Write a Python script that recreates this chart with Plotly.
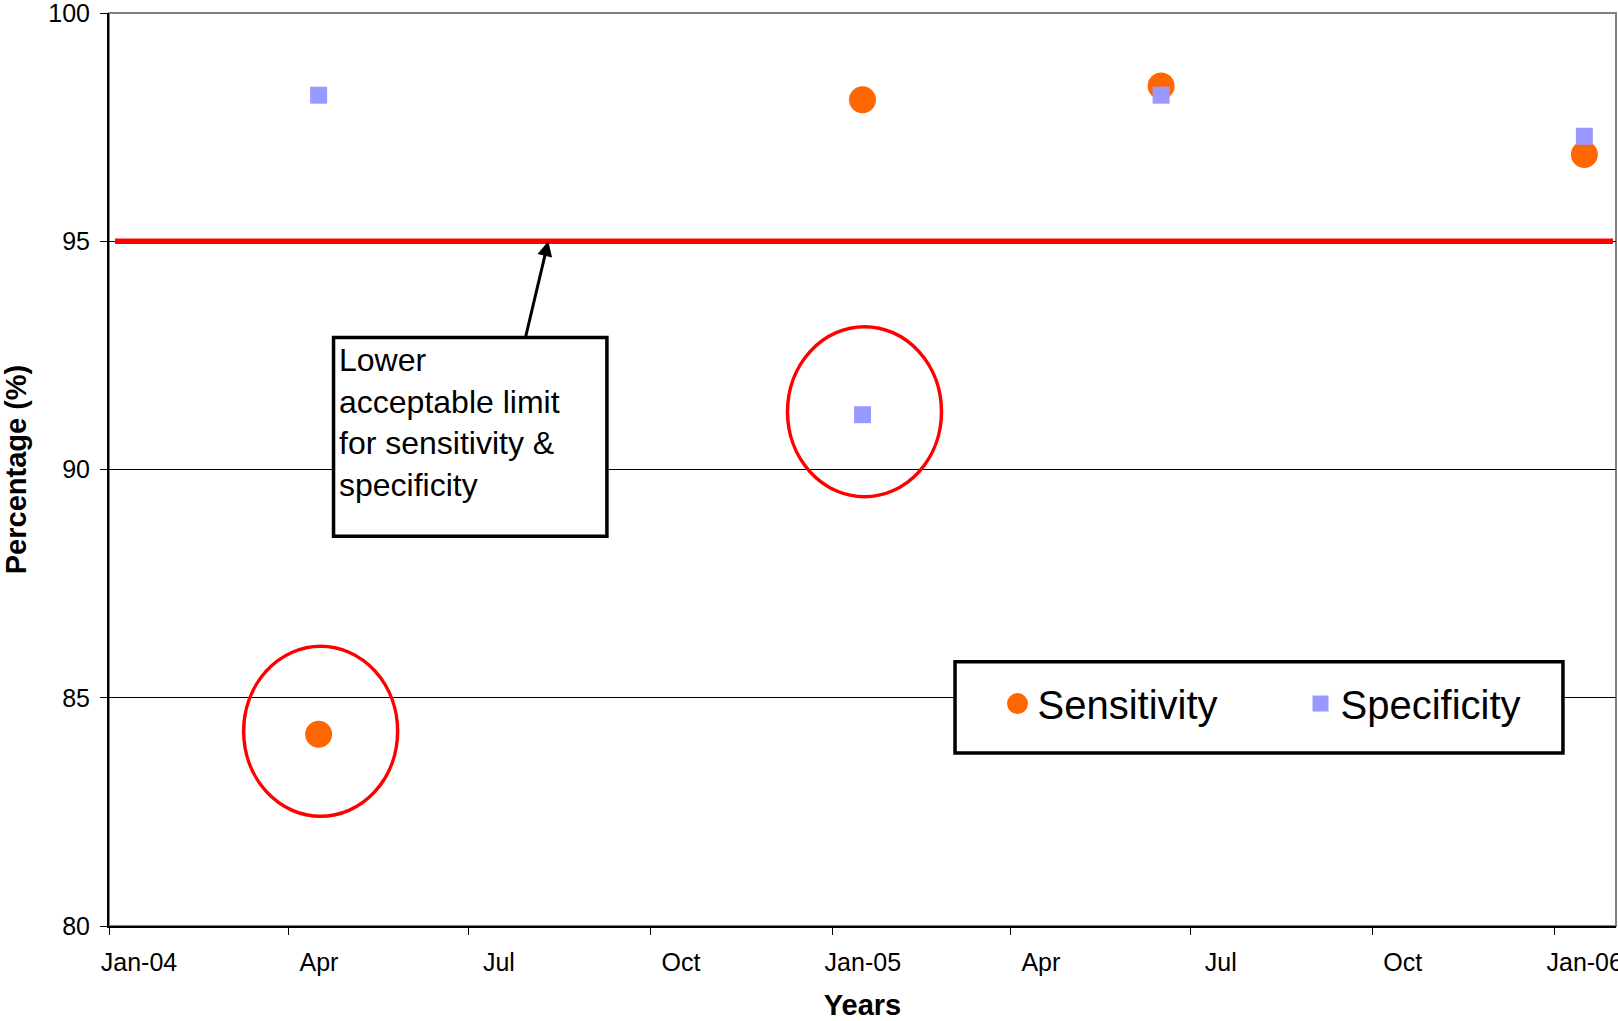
import plotly.graph_objects as go

# ---- data ----
DATES = ["2004-04-16", "2005-01-16", "2005-06-16", "2006-01-16"]
SENSITIVITY = [84.2, 98.1, 98.4, 96.9]
SPECIFICITY = [98.2, 91.2, 98.2, 97.3]
LIMIT = 95  # lower acceptable limit (%)
FLAGGED = [("2004-04-16", 84.2), ("2005-01-16", 91.2)]  # circled points

TICK_DATES = ["2004-01-01", "2004-04-01", "2004-07-01", "2004-10-01",
              "2005-01-01", "2005-04-01", "2005-07-01", "2005-10-01", "2006-01-01"]
TICK_LABELS = ["Jan-04", "Apr", "Jul", "Oct", "Jan-05", "Apr", "Jul", "Oct", "Jan-06"]
X_RANGE = ["2004-01-01", "2006-02-01"]
Y_RANGE = [80, 100]
Y_TICKS = [80, 85, 90, 95, 100]

FONT = "Liberation Sans, Arial, sans-serif"

fig = go.Figure()
fig.add_trace(go.Scatter(
    x=DATES, y=SENSITIVITY, mode="markers", name="Sensitivity",
    marker=dict(symbol="circle", size=22, color="#FF6600", line=dict(width=5, color="#FF6600")),
))
fig.add_trace(go.Scatter(
    x=DATES, y=SPECIFICITY, mode="markers", name="Specificity",
    marker=dict(symbol="square", size=17, color="#9999FF", line=dict(width=0)),
))

shapes = []
# plot area border (grey)
shapes.append(dict(type="rect", xref="paper", yref="paper", x0=0, x1=1, y0=0, y1=1,
                   line=dict(color="#808080", width=2), layer="between"))
# lower acceptable limit line
shapes.append(dict(type="line", xref="paper", yref="y", x0=0.004, x1=0.998, y0=LIMIT, y1=LIMIT,
                   line=dict(color="#FF0000", width=5.5), layer="above"))
# ellipses around flagged points
for d, v in FLAGGED:
    shapes.append(dict(type="circle", xref="x", yref="y", xsizemode="pixel", ysizemode="pixel",
                       xanchor=d, yanchor=v, x0=-75, x1=79, y0=-82, y1=88,
                       line=dict(color="#FF0000", width=3.5), layer="above"))
# annotation box
shapes.append(dict(type="rect", xref="paper", yref="paper", x0=0.1490, x1=0.3304, y0=0.4269, y1=0.6445,
                   line=dict(color="black", width=3.5), fillcolor="white", layer="above"))
# legend box
shapes.append(dict(type="rect", xref="paper", yref="paper", x0=0.5614, x1=0.9648, y0=0.1894, y1=0.2893,
                   line=dict(color="black", width=3.5), fillcolor="white", layer="above"))

annotations = [
    dict(xref="paper", yref="paper", x=0.1513, y=0.6420, xanchor="left", yanchor="top",
         align="left", showarrow=False,
         text="Lower<br>acceptable limit<br>for sensitivity &amp;<br>specificity",
         font=dict(family=FONT, size=32, color="black")),
    dict(xref="paper", yref="y", x=0.2915, y=LIMIT, text="", showarrow=True,
         ax=-23, ay=97, arrowhead=2, arrowsize=1, arrowwidth=3, arrowcolor="black",
         standoff=0, startstandoff=0),
]

fig.update_layout(
    width=1618, height=1021,
    margin=dict(l=109, r=2, t=13, b=95, autoexpand=False),
    paper_bgcolor="white", plot_bgcolor="white",
    font=dict(family=FONT, color="black"),
    shapes=shapes, annotations=annotations,
    showlegend=True,
    legend=dict(orientation="h", x=0.5896, y=0.2436, xanchor="left", yanchor="middle",
                bgcolor="rgba(0,0,0,0)", borderwidth=0,
                font=dict(family=FONT, size=40, color="black"),
                entrywidth=258, entrywidthmode="pixels"),
)

fig.update_xaxes(
    type="date", range=X_RANGE, tickmode="array", tickvals=TICK_DATES, ticktext=TICK_LABELS,
    ticks="outside", ticklen=7, tickwidth=1, tickcolor="black",
    ticklabelshift=30, ticklabelstandoff=6, ticklabeloverflow="allow",
    tickfont=dict(family=FONT, size=25, color="black"),
    showgrid=False, zeroline=False,
    showline=True, linecolor="black", linewidth=2,
    title=dict(text="<b>Years</b>", font=dict(family=FONT, size=29, color="black"), standoff=27),
    automargin=False,
)
fig.update_yaxes(
    range=Y_RANGE, tickmode="array", tickvals=Y_TICKS,
    ticks="outside", ticklen=7, tickwidth=1, tickcolor="black",
    ticklabelstandoff=5, ticklabeloverflow="allow",
    tickfont=dict(family=FONT, size=25, color="black"),
    showgrid=True, gridcolor="black", gridwidth=1, zeroline=False,
    showline=True, linecolor="black", linewidth=2,
    title=dict(text="<b>Percentage (%)</b>", font=dict(family=FONT, size=29, color="black"), standoff=24),
    automargin=False,
)

fig.write_html("out.html", config={"displayModeBar": False},
               post_script="document.body.style.margin='0';")
